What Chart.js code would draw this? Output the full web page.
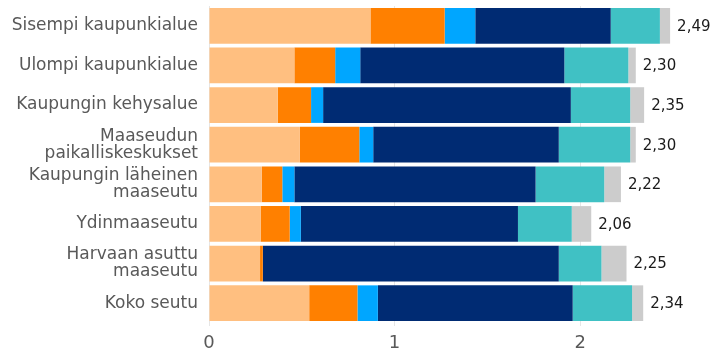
<!DOCTYPE html>
<html lang="fi">
<head>
<meta charset="utf-8">
<script src="https://cdn.jsdelivr.net/npm/chart.js@4/dist/chart.umd.min.js"></script>
<style>
  html, body { margin:0; padding:0; background:#fff; }
  #wrap { width:713px; height:354px; }
</style>
</head>
<body>
<div id="wrap"><canvas id="graph" width="713" height="354"></canvas></div>
<script>
// Alueet
const categories = [
  "Sisempi kaupunkialue",
  "Ulompi kaupunkialue",
  "Kaupungin kehysalue",
  ["Maaseudun", "paikalliskeskukset"],
  ["Kaupungin läheinen", "maaseutu"],
  "Ydinmaaseutu",
  ["Harvaan asuttu", "maaseutu"],
  "Koko seutu"
];

// Matkoja / henkilö / vrk kulkutavoittain (luettu kuvasta)
const walking      = [0.87, 0.46, 0.37, 0.49, 0.285, 0.28, 0.275, 0.54];
const cycling      = [0.40, 0.22, 0.18, 0.32, 0.11, 0.155, 0.015, 0.26];
const publicTrans  = [0.165, 0.135, 0.065, 0.075, 0.065, 0.06, 0, 0.11];
const carDriver    = [0.73, 1.10, 1.335, 1.00, 1.30, 1.17, 1.595, 1.05];
const carPassenger = [0.265, 0.345, 0.32, 0.385, 0.37, 0.29, 0.23, 0.32];
const other        = [0.055, 0.04, 0.075, 0.03, 0.09, 0.105, 0.135, 0.06];

const totals = [2.49, 2.30, 2.35, 2.30, 2.22, 2.06, 2.25, 2.34];
const xTicks = [0, 1, 2];

const FONT = "'DejaVu Sans', Verdana, sans-serif";

// Summat palkkien päähän
const totalLabels = {
  id: "totalLabels",
  afterDatasetsDraw(chart) {
    const ctx = chart.ctx;
    const meta = chart.getDatasetMeta(chart.data.datasets.length - 1);
    ctx.save();
    ctx.font = "15px " + FONT;
    ctx.fillStyle = "#1a1a1a";
    ctx.textAlign = "left";
    ctx.textBaseline = "middle";
    meta.data.forEach((bar, i) => {
      ctx.fillText(totals[i].toFixed(2).replace(".", ","), bar.x + 7, bar.y + 1);
    });
    ctx.restore();
  }
};

function ds(label, data, color) {
  return { label, data, backgroundColor: color, borderWidth: 0,
           barPercentage: 0.9, categoryPercentage: 1.0 };
}

new Chart(document.getElementById("graph").getContext("2d"), {
  type: "bar",
  data: {
    labels: categories,
    datasets: [
      ds("Kävely", walking, "#FFBF80"),
      ds("Polkupyörä", cycling, "#FF8000"),
      ds("Joukkoliikenne", publicTrans, "#00A6FF"),
      ds("Henkilöauto, kuljettaja", carDriver, "#002B73"),
      ds("Henkilöauto, matkustaja", carPassenger, "#40C1C4"),
      ds("Muu", other, "#CCCCCC")
    ]
  },
  options: {
    indexAxis: "y",
    responsive: false,
    animation: false,
    layout: { padding: { top: 6, right: 3, left: 0, bottom: 0 } },
    plugins: { legend: { display: false }, tooltip: { enabled: false } },
    scales: {
      x: {
        stacked: true,
        min: 0, max: 2.7,
        afterBuildTicks: (s) => { s.ticks = xTicks.map(v => ({ value: v })); },
        afterFit: (s) => { s.height = 31; s.paddingLeft = 0; s.paddingRight = 0; },
        grid: { color: "#E6E6E6", drawTicks: true, tickLength: 3 },
        border: { display: false },
        ticks: { color: "#595959", padding: 7, font: { family: FONT, size: 18 } }
      },
      y: {
        stacked: true,
        afterFit: (s) => { s.width = 209; s.paddingTop = 0; s.paddingBottom = 0; },
        grid: { display: false, drawTicks: false },
        border: { display: false },
        ticks: { color: "#595959", padding: 11, font: { family: FONT, size: 17, lineHeight: 1.0 } }
      }
    }
  },
  plugins: [totalLabels]
});
</script>
</body>
</html>
